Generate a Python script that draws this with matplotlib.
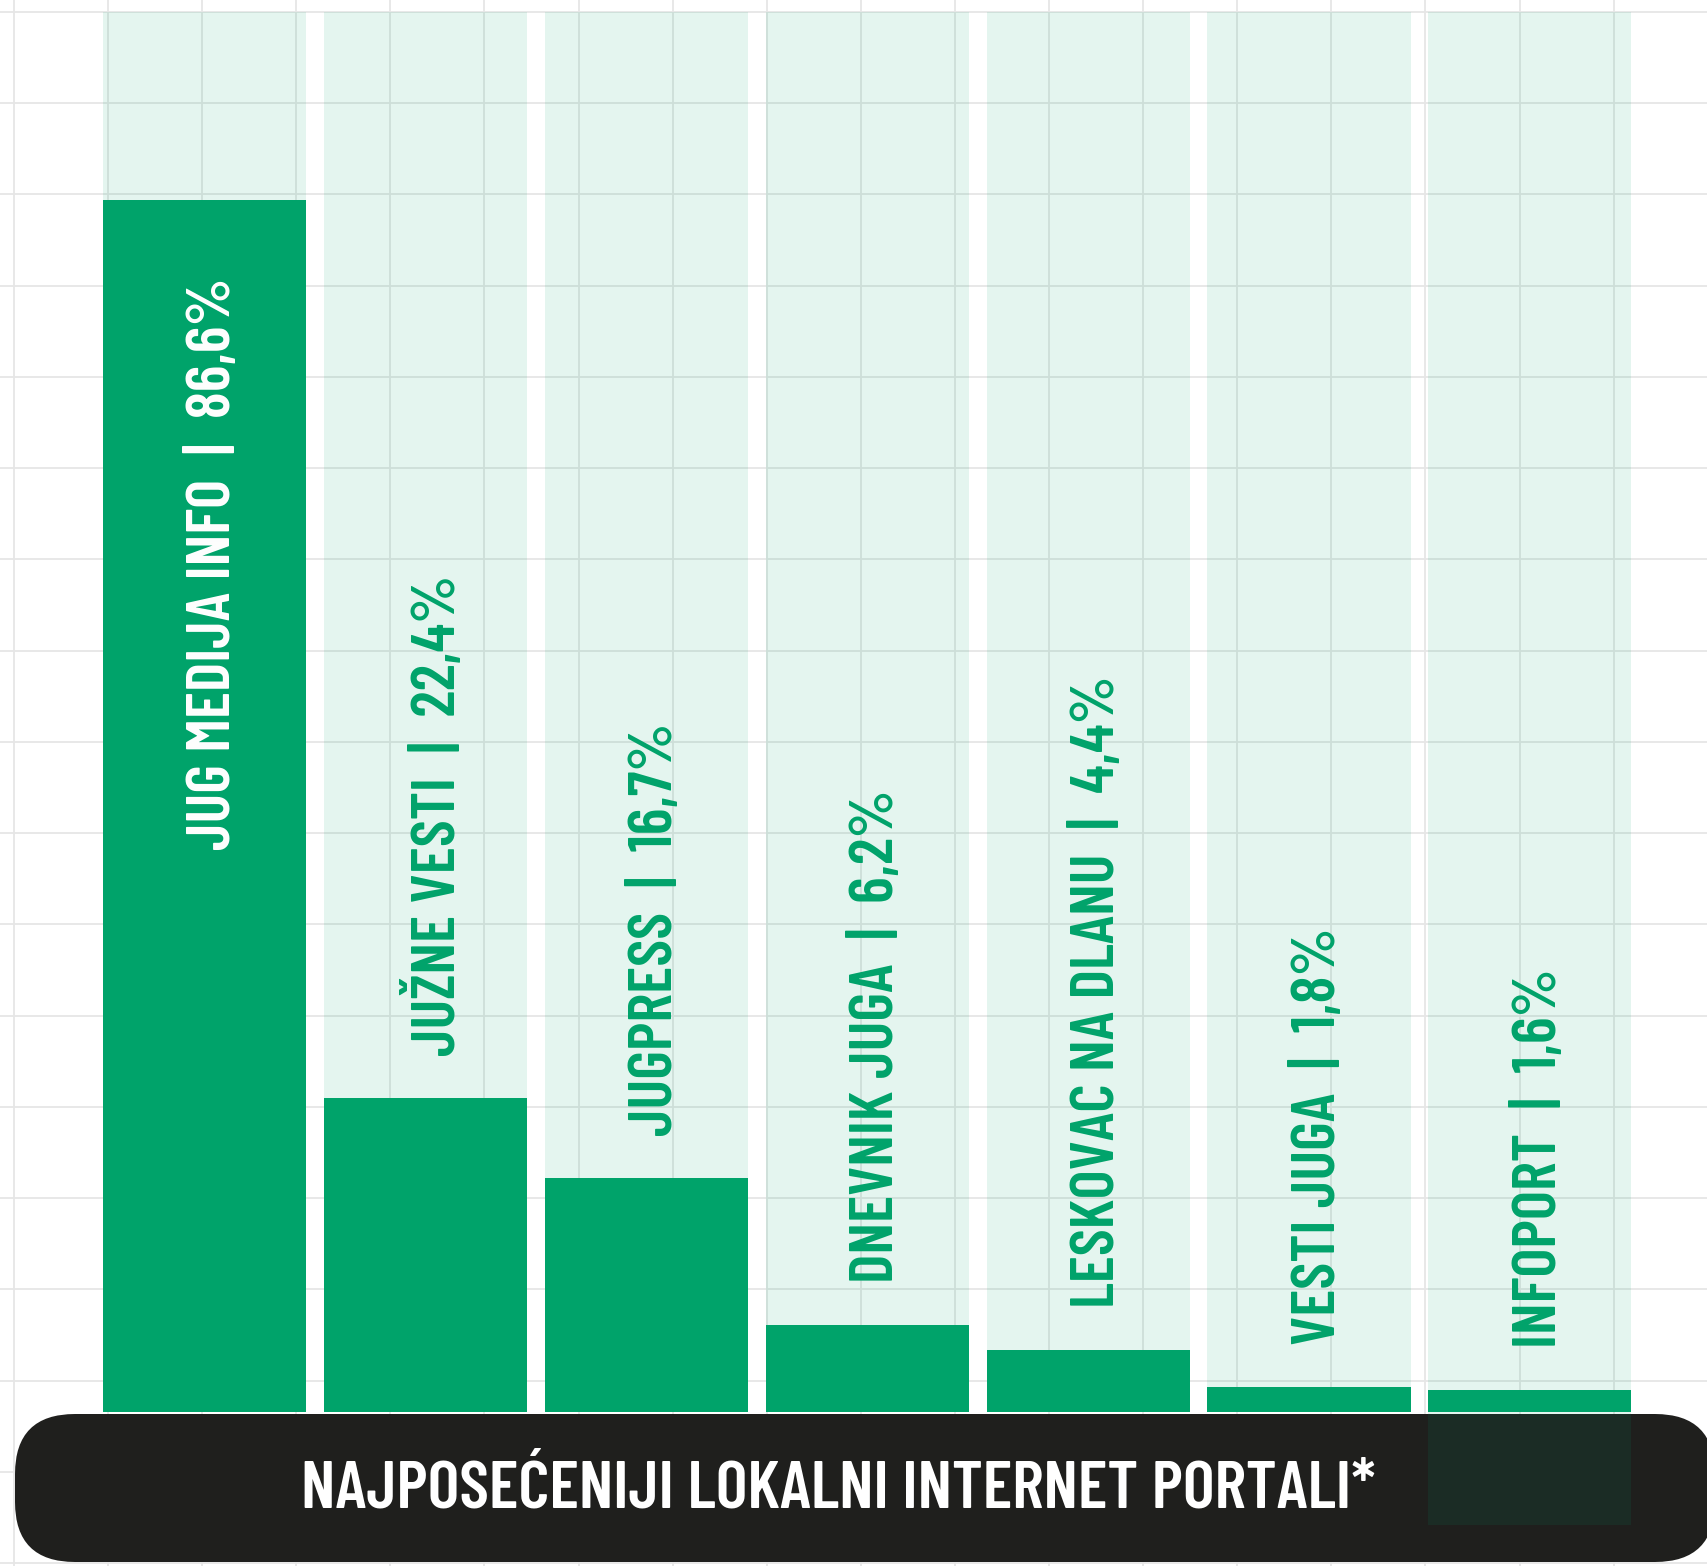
import matplotlib
matplotlib.use("Agg")
import matplotlib.pyplot as plt
from matplotlib.patches import FancyBboxPatch

# Data
portals = ["JUG MEDIJA INFO", "JUŽNE VESTI", "JUGPRESS", "DNEVNIK JUGA",
           "LESKOVAC NA DLANU", "VESTI JUGA", "INFOPORT"]
shares = [86.6, 22.4, 16.7, 6.2, 4.4, 1.8, 1.6]
value_labels = ["86,6%", "22,4%", "16,7%", "6,2%", "4,4%", "1,8%", "1,6%"]
backdrop_bottom = [0, 0, 0, 0, 0, 0, -8.1]
title = "NAJPOSEĆENIJI LOKALNI INTERNET PORTALI*"

GREEN = "#00a36a"
DARK = "#1f1f1d"
W, H = 1708, 1566
FONT = ["Barlow Condensed", "DejaVu Sans"]

fig = plt.figure(figsize=(W / 100, H / 100), dpi=100)

# background grid + title pill, in pixel coordinates
bg = fig.add_axes([0, 0, 1, 1])
bg.set_xlim(0, W)
bg.set_ylim(H, 0)
bg.set_xticks([14 + k * 94.1 for k in range(19)])
bg.set_yticks([12 + k * 91.24 for k in range(18)])
bg.grid(True, color="#e6e6e6", linewidth=1.3)
bg.tick_params(length=0, labelbottom=False, labelleft=False)
for s in bg.spines.values():
    s.set_visible(False)
pill = FancyBboxPatch((15, 1414), 1700, 148, boxstyle="round,pad=0,rounding_size=60",
                      facecolor=DARK, edgecolor="none", zorder=3)
bg.add_patch(pill)
bg.text(838, 1490, title, color="white", fontsize=49, fontweight=600,
        family=FONT, ha="center", va="center", zorder=4)

# main chart
ax = fig.add_axes([94.05 / W, (H - 1412) / H, 1546.3 / W, 1400 / H])
ax.patch.set_alpha(0)
ax.set_xlim(-0.5, 6.5)
ax.set_ylim(0, 100)
ax.axis("off")

x = range(len(portals))
backs = ax.bar(x, [100 - b for b in backdrop_bottom], bottom=backdrop_bottom, width=0.919,
               color=GREEN, alpha=0.105, linewidth=0)
for b in backs:
    b.set_clip_on(False)
ax.bar(x, shares, width=0.919, color=GREEN, linewidth=0)

for i, (name, v, lab) in enumerate(zip(portals, shares, value_labels)):
    txt = f"{name}  |  {lab}"
    if i == 0:
        ax.text(i + 0.045, v - 5.6, txt, rotation=90, ha="center", va="top", color="white",
                fontsize=44.8, fontweight=600, family=FONT)
    else:
        ax.text(i + 0.045, v + 3.0, txt, rotation=90, ha="center", va="bottom", color=GREEN,
                fontsize=44.8, fontweight=600, family=FONT)

fig.savefig("out.png", dpi=100)
